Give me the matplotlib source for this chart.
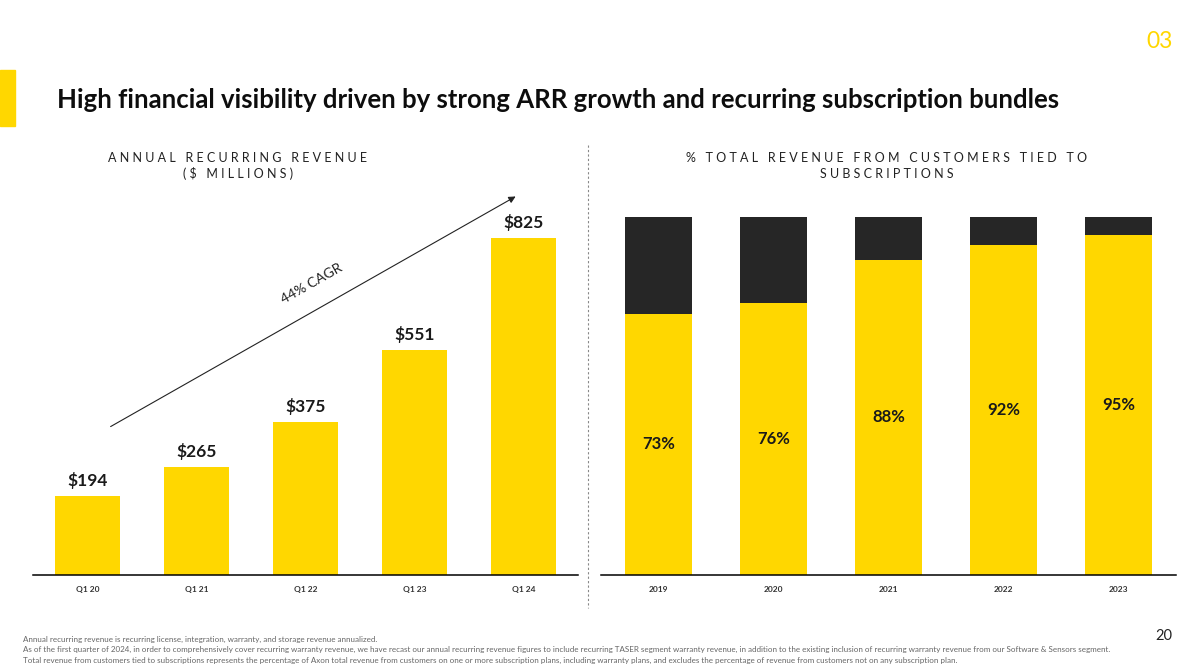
import matplotlib.pyplot as plt
from matplotlib.patches import Rectangle

plt.rcParams['font.family'] = ['Lato', 'DejaVu Sans']

YELLOW = '#FFD700'
DARK = '#262626'

# left chart: annual recurring revenue ($M)
arr_labels = ['Q1 20', 'Q1 21', 'Q1 22', 'Q1 23', 'Q1 24']
arr_values = [194, 265, 375, 551, 825]

# right chart: % of revenue tied to subscriptions
sub_years = ['2019', '2020', '2021', '2022', '2023']
sub_pct = [73, 76, 88, 92, 95]

fig = plt.figure(figsize=(12, 6.71), dpi=100)

W, H = 1200, 671


def fx(px):
    return px / W


def fy(py):
    return 1 - py / H


# left axes
ax1 = fig.add_axes([fx(33), fy(575), fx(578) - fx(33), fy(200) - fy(575)])
x1 = range(len(arr_values))
ax1.bar(x1, arr_values, width=0.59, color=YELLOW)
for i, v in enumerate(arr_values):
    ax1.text(i, v + 16, f'${v}', ha='center', va='bottom', fontsize=12.5, fontweight='bold', color='#1a1a1a')
ax1.set_xlim(-0.5, 4.5)
ax1.set_ylim(0, 918)
ax1.set_xticks(list(x1))
ax1.set_xticklabels(arr_labels, fontsize=6, fontweight='bold', color='#333333')
ax1.set_yticks([])
for s in ['top', 'right', 'left']:
    ax1.spines[s].set_visible(False)
ax1.spines['bottom'].set_linewidth(1.1)
ax1.tick_params(axis='x', length=0, pad=8)

ax1.annotate('', xy=(3.95, 930), xytext=(0.19, 360), xycoords='data',
             arrowprops=dict(arrowstyle='-|>', color='#222222', lw=0.8, mutation_scale=10),
             annotation_clip=False)
ax1.text(2.06, 712, '44% CAGR', rotation=29.6, ha='center', va='center', fontsize=10, color='#222222',
         rotation_mode='anchor')

# right axes
ax2 = fig.add_axes([fx(601), fy(575), fx(1176) - fx(601), fy(200) - fy(575)])
x2 = range(len(sub_pct))
rest = [100 - p for p in sub_pct]
ax2.bar(x2, sub_pct, width=0.58, color=YELLOW)
ax2.bar(x2, rest, bottom=sub_pct, width=0.58, color=DARK)
for i, p in enumerate(sub_pct):
    ax2.text(i, p / 2, f'{p}%', ha='center', va='center', fontsize=12, fontweight='bold', color='#1a1a1a')
ax2.set_xlim(-0.5, 4.5)
ax2.set_ylim(0, 104.7)
ax2.set_xticks(list(x2))
ax2.set_xticklabels(sub_years, fontsize=6, fontweight='bold', color='#333333')
ax2.set_yticks([])
for s in ['top', 'right', 'left']:
    ax2.spines[s].set_visible(False)
ax2.spines['bottom'].set_linewidth(1.1)
ax2.tick_params(axis='x', length=0, pad=8)

# separator
fig.add_artist(plt.Line2D([fx(588), fx(588)], [fy(145), fy(608)], color='#888888', lw=0.8,
                          linestyle=(0, (2, 2))))


def letter_space(s):
    words = s.split(' ')
    return '   '.join(' '.join(w) for w in words)


fig.text(fx(238), fy(158), letter_space('ANNUAL RECURRING REVENUE'), ha='center', va='center',
         fontsize=9, color='#222222')
fig.text(fx(238), fy(174), letter_space('($ MILLIONS)'), ha='center', va='center',
         fontsize=9, color='#222222')
fig.text(fx(887), fy(158), letter_space('% TOTAL REVENUE FROM CUSTOMERS TIED TO'), ha='center', va='center',
         fontsize=9, color='#222222')
fig.text(fx(887), fy(174), letter_space('SUBSCRIPTIONS'), ha='center', va='center',
         fontsize=9, color='#222222')

# title and decorations
fig.add_artist(Rectangle((0, fy(126)), fx(15), fy(70) - fy(126), color=YELLOW, transform=fig.transFigure))
fig.text(fx(57), fy(100), 'High financial visibility driven by strong ARR growth and recurring subscription bundles',
         ha='left', va='center', fontsize=18.5, fontweight='bold', color='#0d0d0d')
fig.text(fx(1173), fy(42), '03', ha='right', va='center', fontsize=16.5, color=YELLOW)
fig.text(fx(1172), fy(636), '20', ha='right', va='center', fontsize=10.5, color='#222222')

notes = [
    'Annual recurring revenue is recurring license, integration, warranty, and storage revenue annualized.',
    'As of the first quarter of 2024, in order to comprehensively cover recurring warranty revenue, we have recast our annual recurring revenue figures to include recurring TASER segment warranty revenue, in addition to the existing inclusion of recurring warranty revenue from our Software & Sensors segment.',
    'Total revenue from customers tied to subscriptions represents the percentage of Axon total revenue from customers on one or more subscription plans, including warranty plans, and excludes the percentage of revenue from customers not on any subscription plan.',
]
for k, n in enumerate(notes):
    fig.text(fx(23), fy(639 + k * 10.5), n, ha='left', va='center', fontsize=5.8, color='#666666')

fig.savefig('out.png', dpi=100)
